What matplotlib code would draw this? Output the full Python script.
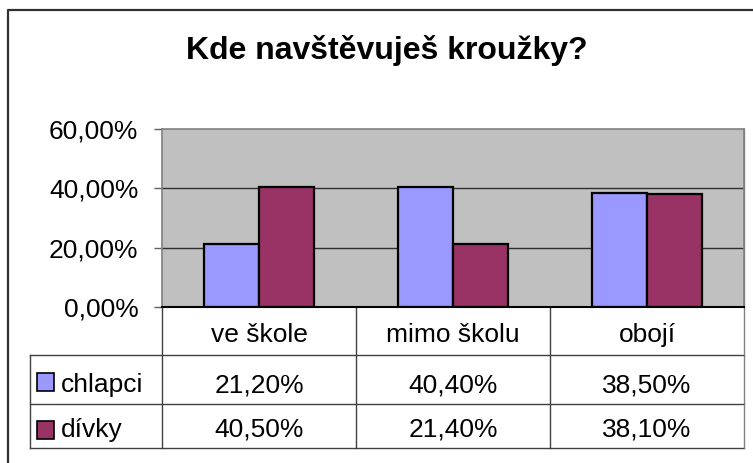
import matplotlib

matplotlib.use("Agg")
import matplotlib.pyplot as plt
from matplotlib.patches import Rectangle
import numpy as np

plt.rcParams["font.family"] = ["Liberation Sans", "DejaVu Sans"]

categories = ["ve škole", "mimo školu", "obojí"]
series_names = ["chlapci", "dívky"]
chlapci = [21.2, 40.4, 38.5]
divky = [40.5, 21.4, 38.1]
y_ticks = [0, 20, 40, 60]
colors = ["#9999FF", "#993366"]
title = "Kde navštěvuješ kroužky?"


def pct(v):
    return f"{v:.2f}".replace(".", ",") + "%"


W, H = 753, 463
FS = 19
fig = plt.figure(figsize=(W / 100, H / 100), dpi=100)

# overlay in pixel units (origin top-left) for frame and table
ov = fig.add_axes([0, 0, 1, 1])
ov.set_xlim(0, W)
ov.set_ylim(H, 0)
ov.axis("off")

plot_l, plot_r, plot_t, plot_b = 162, 744, 129, 307
cat_w = (plot_r - plot_l) / len(categories)
row_lines = [plot_b, 355, 404, 448]
tab_l = 30

ax = fig.add_axes([plot_l / W, 1 - plot_b / H, (plot_r - plot_l) / W, (plot_b - plot_t) / H])
ax.set_facecolor("#C0C0C0")
x = np.arange(len(categories))
bw = 1 / 3.5
data = [chlapci, divky]
for i, vals in enumerate(data):
    ax.bar(x + (i - 0.5) * bw, vals, bw, color=colors[i], edgecolor="black",
           linewidth=1.6, zorder=3)
ax.set_xlim(-0.5, len(categories) - 0.5)
ax.set_ylim(0, 60)
ax.set_yticks(y_ticks)
ax.set_yticklabels([pct(v) for v in y_ticks], fontsize=FS)
ax.set_xticks([])
ax.tick_params(axis="y", length=6, width=1, color="#606060", pad=11)
for yv in y_ticks[1:-1]:
    ax.axhline(yv, color="#303030", linewidth=1, zorder=1)
for side in ["left", "top", "right"]:
    ax.spines[side].set_color("#808080")
    ax.spines[side].set_linewidth(1.2)
ax.spines["bottom"].set_color("black")
ax.spines["bottom"].set_linewidth(1.5)
ax.spines["bottom"].set_zorder(4)

# outer frame
ov.plot([8, 8, W], [H, 10, 10], color="#303030", linewidth=1.6)

# title
ov.text(387, 59, title, fontsize=23, fontweight="bold", ha="center", va="baseline")

# data table
lc = "#404040"
for yl in row_lines[1:]:
    ov.plot([tab_l, plot_r], [yl, yl], color=lc, linewidth=1)
ov.plot([tab_l, tab_l], [row_lines[1], row_lines[-1]], color=lc, linewidth=1)
for k in range(len(categories) + 1):
    xb = plot_l + k * cat_w
    top = plot_t if k == len(categories) else plot_b
    ov.plot([xb, xb], [top, row_lines[-1]], color=lc if k < len(categories) else "#808080",
            linewidth=1)

baselines = [342, 392, 437]
for j, cat in enumerate(categories):
    cx = plot_l + (j + 0.5) * cat_w
    ov.text(cx, baselines[0], cat, fontsize=FS, ha="center", va="baseline")
    for i, vals in enumerate(data):
        ov.text(cx, baselines[i + 1], pct(vals[j]), fontsize=FS, ha="center", va="baseline")

key_tops = [373, 421]
for i, name in enumerate(series_names):
    ov.add_patch(Rectangle((37, key_tops[i]), 17, 18, facecolor=colors[i],
                           edgecolor="black", linewidth=1.2))
    ov.text(61, baselines[i + 1], name, fontsize=FS, ha="left", va="baseline")

fig.savefig("out.png", dpi=100)
